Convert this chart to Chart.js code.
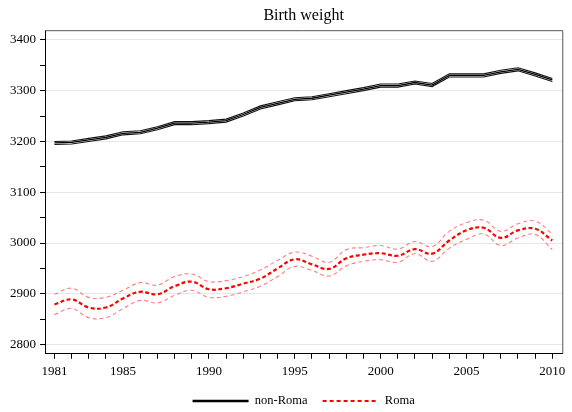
<!DOCTYPE html>
<html><head><meta charset="utf-8">
<script src="https://cdn.jsdelivr.net/npm/chart.js@4"></script>
<style>html,body{margin:0;padding:0;background:#fff}#wrap{width:572px;height:412px;position:relative}</style>
</head><body><div id="wrap"><canvas id="c"></canvas></div>
<script>
const years = [1981,1982,1983,1984,1985,1986,1987,1988,1989,1990,1991,1992,1993,1994,1995,1996,1997,1998,1999,2000,2001,2002,2003,2004,2005,2006,2007,2008,2009,2010];
const nonRomaMean  = [3197,3198,3203,3208,3216,3218,3226,3236,3236,3238,3241,3253,3267,3275,3283,3285,3291,3297,3303,3310,3310,3316,3311,3330,3330,3330,3337,3342,3332,3321];
const nonRomaUpper = [3200,3201,3206,3211,3219,3221,3229,3239,3239,3241,3244,3256,3270,3278,3286,3288,3294,3300,3306,3313,3313,3319,3314,3333,3333,3333,3340,3345,3335,3324];
const nonRomaLower = [3194,3195,3200,3205,3213,3215,3223,3233,3233,3235,3238,3250,3264,3272,3280,3282,3288,3294,3300,3307,3307,3313,3308,3327,3327,3327,3334,3339,3329,3318];
const romaMean  = [2879,2889,2873,2873,2891,2904,2899,2915,2924,2909,2911,2920,2930,2950,2968,2958,2949,2970,2977,2980,2975,2988,2979,3005,3025,3030,3010,3025,3028,3005];
const romaUpper = [2899,2911,2893,2893,2907,2922,2917,2934,2939,2924,2926,2934,2947,2966,2982,2974,2962,2987,2991,2995,2988,3003,2993,3023,3040,3045,3023,3038,3043,3018];
const romaLower = [2859,2871,2853,2853,2871,2887,2882,2897,2907,2893,2895,2904,2915,2934,2954,2946,2935,2955,2964,2967,2962,2979,2964,2990,3007,3018,2995,3010,3017,2987];
const xTickLabels = [1981,1985,1990,1995,2000,2005,2010];
const yTicks = [2800,2850,2900,2950,3000,3050,3100,3150,3200,3250,3300,3350,3400];
const yTickLabels = [2800,2900,3000,3100,3200,3300,3400];

const pts = arr => years.map((yr,i)=>({x:yr, y:arr[i]}));
const serif = "'Liberation Serif', 'Times New Roman', serif";

const frame = {
  id:'frame',
  beforeDatasetsDraw(chart){
    const {ctx, chartArea:a} = chart;
    ctx.save();
    ctx.strokeStyle = '#555';
    ctx.lineWidth = 1;
    ctx.beginPath();
    ctx.moveTo(a.left, a.top+0.5); ctx.lineTo(a.right+0.5, a.top+0.5); ctx.lineTo(a.right+0.5, a.bottom);
    ctx.stroke();
    ctx.restore();
  }
};

new Chart(document.getElementById('c'), {
  type:'line',
  data:{ datasets:[
    {label:'', data:pts(nonRomaUpper), borderColor:'#111', borderWidth:1.1, pointRadius:0, tension:0},
    {label:'', data:pts(nonRomaLower), borderColor:'#111', borderWidth:1.1, pointRadius:0, tension:0},
    {label:'non-Roma', data:pts(nonRomaMean), borderColor:'#000', borderWidth:1.3, pointRadius:0, tension:0},
    {label:'', data:pts(romaUpper), borderColor:'#ff7f7f', borderWidth:1.1, borderDash:[4,3], pointRadius:0, tension:0.4},
    {label:'', data:pts(romaLower), borderColor:'#ff7f7f', borderWidth:1.1, borderDash:[4,3], pointRadius:0, tension:0.4},
    {label:'Roma', data:pts(romaMean), borderColor:'#ff0000', borderWidth:2.2, borderDash:[4,2.5], pointRadius:0, tension:0.4}
  ]},
  options:{
    responsive:true, maintainAspectRatio:false, animation:false,
    layout:{padding:{left:0,right:5,top:0,bottom:-5.25}},
    plugins:{
      title:{display:true, text:'Birth weight', fullSize:false, color:'#000', font:{family:serif,size:16,weight:'normal'}, padding:{top:6,bottom:5}},
      legend:{position:'bottom', fullSize:false, labels:{
        usePointStyle:true, pointStyle:'line', boxWidth:56, pointStyleWidth:56,
        color:'#000', font:{family:serif,size:12.5}, padding:15,
        generateLabels: chart => Chart.defaults.plugins.legend.labels.generateLabels(chart)
          .filter(it => it.text !== '')
          .map(it => {
            const ds = chart.data.datasets[it.datasetIndex];
            it.lineWidth = ds.label === 'Roma' ? 2 : 2.5;
            it.lineDash = ds.label === 'Roma' ? [4,3] : [];
            it.strokeStyle = ds.borderColor;
            return it;
          })
      }},
      tooltip:{enabled:false}
    },
    scales:{
      x:{type:'linear', min:1980.45, max:2010.58,
        afterBuildTicks: s => { s.ticks = years.map(v=>({value:v})); },
        afterFit: s => { s.height = 26; },
        ticks:{autoSkip:false, maxRotation:0, color:'#000', font:{family:serif,size:13,lineHeight:1}, padding:6.5,
          callback: v => xTickLabels.includes(v) ? String(v) : ''},
        grid:{drawOnChartArea:false, tickLength:5, tickColor:'#000'},
        border:{color:'#000', width:1}
      },
      y:{min:2782, max:3419,
        afterBuildTicks: s => { s.ticks = yTicks.map(v=>({value:v})); },
        afterFit: s => { s.width = 45; },
        ticks:{autoSkip:false, color:'#000', font:{family:serif,size:13}, padding:4,
          callback: v => yTickLabels.includes(v) ? String(v) : ''},
        grid:{color: c => (c.tick && yTickLabels.includes(c.tick.value)) ? '#e6e6e6' : 'rgba(0,0,0,0)', tickLength:5, tickColor:'#000'},
        border:{color:'#000', width:1}
      }
    }
  },
  plugins:[frame]
});
</script></body></html>
